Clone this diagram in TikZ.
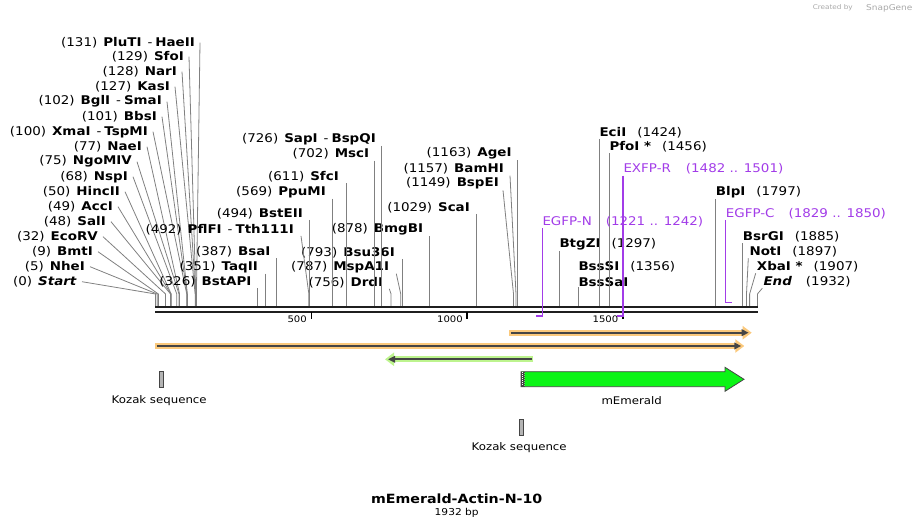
\documentclass[tikz,border=0pt]{standalone}
\usepackage{fontspec}
\setmainfont{DejaVu Sans}[FakeStretch=1.12]
\usetikzlibrary{arrows.meta}

\definecolor{sitegray}{HTML}{808080}
\definecolor{primer}{HTML}{A23CE8}
\definecolor{glowor}{HTML}{FBC97C}
\definecolor{glowgr}{HTML}{BDF48E}
\definecolor{emerald}{HTML}{0BF516}
\definecolor{darkbar}{HTML}{454545}
\definecolor{kozakgray}{HTML}{B4B4B4}
\definecolor{creditgray}{HTML}{A8A8A8}

\newcommand{\labfont}{\fontsize{12}{13}\selectfont}
\newcommand{\enz}[2]{(#1)\hspace{6pt}\textbf{#2}}
\newcommand{\also}[1]{\hspace{6pt}-\hspace{3pt}\textbf{#1}}
\newcommand{\enr}[2]{\textbf{#1}\hspace{11pt}(#2)}
\newcommand{\bpx}[1]{155.6+0.3115*#1}

\begin{document}
\begin{tikzpicture}[x=1pt,y=-1pt,
    lab/.style={font=\labfont, inner sep=1pt},
    labl/.style={lab, anchor=east},
    labr/.style={lab, anchor=west},
    cut/.style={draw=sitegray, line width=0.8pt},
    prim/.style={draw=primer, line width=1.4pt},
    ticklab/.style={font=\fontsize{9}{10}\selectfont, anchor=east, inner sep=0pt},
    featlab/.style={font=\fontsize{10.5}{12}\selectfont, inner sep=0pt},
    kozak/.style={draw=darkbar, fill=kozakgray, line width=0.6pt}]

  \useasboundingbox (0,0) rectangle (914,529);

  % credit line
  \node[anchor=east, inner sep=0pt, text=creditgray, font=\fontsize{6.5}{7}\selectfont] (created) at (853,8) {Created by};
  \node[anchor=west, inner sep=0pt, text=creditgray, font=\fontsize{8}{9}\selectfont] (snapgene) at (866,8) {SnapGene};

  % backbone
  \coordinate (bbL) at (155.3,307);
  \coordinate (bbR) at (758.3,307);
  \coordinate (bbL2) at (155.3,311.7);
  \coordinate (bbR2) at (758.3,311.7);
  \draw[line width=2.6pt, black!88] (bbL) -- (bbR);
  \draw[line width=2pt, black!88] (bbL2) -- (bbR2);
  \coordinate (kink) at (0,294);

  % scale ticks
  \coordinate (t500) at (\bpx{500},312);
  \coordinate (t1000) at (\bpx{1000},312);
  \coordinate (t1500) at (\bpx{1500},312);
  \draw[line width=1.5pt] (t500) -- ++(0,7.5);
  \draw[line width=1.5pt] (t1000) -- ++(0,7.5);
  \draw[line width=1.5pt] (t1500) -- ++(0,7.5);
  \node[ticklab] (l500) at (307,319.5) {500};
  \node[ticklab] (l1000) at (463,319.5) {1000};
  \node[ticklab] (l1500) at (618.5,319.5) {1500};

  % sites
  \coordinate (sStart) at (\bpx{0},306);
  \coordinate (sNheI) at (\bpx{5},306);
  \coordinate (sBmtI) at (\bpx{9},306);
  \coordinate (sEcoRV) at (\bpx{32},306);
  \coordinate (sSalI) at (\bpx{48},306);
  \coordinate (sAccI) at (\bpx{49},306);
  \coordinate (sHincII) at (\bpx{50},306);
  \coordinate (sNspI) at (\bpx{68},306);
  \coordinate (sNgoMIV) at (\bpx{75},306);
  \coordinate (sNaeI) at (\bpx{77},306);
  \coordinate (sXmaI) at (\bpx{100},306);
  \coordinate (sBbsI) at (\bpx{101},306);
  \coordinate (sBglI) at (\bpx{102},306);
  \coordinate (sKasI) at (\bpx{127},306);
  \coordinate (sNarI) at (\bpx{128},306);
  \coordinate (sSfoI) at (\bpx{129},306);
  \coordinate (sPluTI) at (\bpx{131},306);
  \coordinate (sBstAPI) at (\bpx{326},306);
  \coordinate (sTaqII) at (\bpx{351},306);
  \coordinate (sBsaI) at (\bpx{387},306);
  \coordinate (sPflFI) at (\bpx{492},306);
  \coordinate (sBstEII) at (\bpx{494},306);
  \coordinate (sPpuMI) at (\bpx{569},306);
  \coordinate (sSfcI) at (\bpx{611},306);
  \coordinate (sMscI) at (\bpx{702},306);
  \coordinate (sSapI) at (\bpx{726},306);
  \coordinate (sDrdI) at (\bpx{756},306);
  \coordinate (sMspAI) at (\bpx{787},306);
  \coordinate (sBsuI) at (\bpx{793},306);
  \coordinate (sBmgBI) at (\bpx{878},306);
  \coordinate (sScaI) at (\bpx{1029},306);
  \coordinate (sBspEI) at (\bpx{1149},306);
  \coordinate (sBamHI) at (\bpx{1157},306);
  \coordinate (sAgeI) at (\bpx{1163},306);
  \coordinate (sBtgZI) at (\bpx{1297},306);
  \coordinate (sBssSI) at (\bpx{1356},306);
  \coordinate (sEciI) at (\bpx{1424},306);
  \coordinate (sPfoI) at (\bpx{1456},306);
  \coordinate (sBlpI) at (\bpx{1797},306);
  \coordinate (sBsrGI) at (\bpx{1885},306);
  \coordinate (sNotI) at (\bpx{1897},306);
  \coordinate (sXbaI) at (\bpx{1907},306);
  \coordinate (sEnd) at (\bpx{1932},306);

  % left fan of labels
  \begin{scope}[every node/.style={labl}]
    \node (PluTI) at (196,42.7) {\enz{131}{PluTI}\also{HaeII}};
    \node (SfoI) at (185,56.7) {\enz{129}{SfoI}};
    \node (NarI) at (178,71.7) {\enz{128}{NarI}};
    \node (KasI) at (171,86.7) {\enz{127}{KasI}};
    \node (BglI) at (163,101.7) {\enz{102}{BglI}\also{SmaI}};
    \node (BbsI) at (158,116.7) {\enz{101}{BbsI}};
    \node (XmaI) at (149,131.7) {\enz{100}{XmaI}\also{TspMI}};
    \node (NaeI) at (143,146.7) {\enz{77}{NaeI}};
    \node (NgoMIV) at (133,161.7) {\enz{75}{NgoMIV}};
    \node (NspI) at (129,176.7) {\enz{68}{NspI}};
    \node (HincII) at (121,191.7) {\enz{50}{HincII}};
    \node (AccI) at (114,206.7) {\enz{49}{AccI}};
    \node (SalI) at (107,221.7) {\enz{48}{SalI}};
    \node (EcoRV) at (99,236.7) {\enz{32}{EcoRV}};
    \node (BmtI) at (94,251.7) {\enz{9}{BmtI}};
    \node (NheI) at (86,266.7) {\enz{5}{NheI}};
    \node (Start) at (78,281.7) {(0)\hspace{6pt}\textbf{\textit{Start}}};
  \end{scope}

  \begin{scope}[every path/.style={cut}]
    \draw ([xshift=4pt]PluTI.east) -- (kink -| sPluTI) -- (sPluTI);
    \draw ([xshift=4pt]SfoI.east) -- (kink -| sSfoI) -- (sSfoI);
    \draw ([xshift=4pt]NarI.east) -- (kink -| sNarI) -- (sNarI);
    \draw ([xshift=4pt]KasI.east) -- (kink -| sKasI) -- (sKasI);
    \draw ([xshift=4pt]BglI.east) -- (kink -| sBglI) -- (sBglI);
    \draw ([xshift=4pt]BbsI.east) -- (kink -| sBbsI) -- (sBbsI);
    \draw ([xshift=4pt]XmaI.east) -- (kink -| sXmaI) -- (sXmaI);
    \draw ([xshift=4pt]NaeI.east) -- (kink -| sNaeI) -- (sNaeI);
    \draw ([xshift=4pt]NgoMIV.east) -- (kink -| sNgoMIV) -- (sNgoMIV);
    \draw ([xshift=4pt]NspI.east) -- (kink -| sNspI) -- (sNspI);
    \draw ([xshift=4pt]HincII.east) -- (kink -| sHincII) -- (sHincII);
    \draw ([xshift=4pt]AccI.east) -- (kink -| sAccI) -- (sAccI);
    \draw ([xshift=4pt]SalI.east) -- (kink -| sSalI) -- (sSalI);
    \draw ([xshift=4pt]EcoRV.east) -- (kink -| sEcoRV) -- (sEcoRV);
    \draw ([xshift=4pt]BmtI.east) -- (kink -| sBmtI) -- (sBmtI);
    \draw ([xshift=4pt]NheI.east) -- (kink -| sNheI) -- (sNheI);
    \draw ([xshift=4pt]Start.east) -- (kink -| sStart) -- (sStart);
  \end{scope}

  % middle labels
  \begin{scope}[every node/.style={labl}]
    \node (BstEII) at (304,213.3) {\enz{494}{BstEII}};
    \node (PflFI) at (295,229.3) {\enz{492}{PflFI}\also{Tth111I}};
    \node (BsaI) at (271.7,251.7) {\enz{387}{BsaI}};
    \node (TaqII) at (259,266.7) {\enz{351}{TaqII}};
    \node (BstAPI) at (252.7,281.7) {\enz{326}{BstAPI}};
    \node (SapI) at (377,139) {\enz{726}{SapI}\also{BspQI}};
    \node (MscI) at (370.3,154) {\enz{702}{MscI}};
    \node (SfcI) at (340,176.7) {\enz{611}{SfcI}};
    \node (PpuMI) at (327,191.7) {\enz{569}{PpuMI}};
    \node (BmgBI) at (424.3,229) {\enz{878}{BmgBI}};
    \node (BsuI) at (396,252.3) {\enz{793}{Bsu36I}};
    \node (MspAI) at (390.3,266.7) {\enz{787}{MspA1I}};
    \node (DrdI) at (384.3,282.3) {\enz{756}{DrdI}};
    \node (ScaI) at (471,207.3) {\enz{1029}{ScaI}};
    \node (AgeI) at (512.7,153.3) {\enz{1163}{AgeI}};
    \node (BamHI) at (505,169) {\enz{1157}{BamHI}};
    \node (BspEI) at (500,183.3) {\enz{1149}{BspEI}};
  \end{scope}

  \begin{scope}[every path/.style={cut}]
    \draw (BstEII.south -| sBstEII) -- (sBstEII);
    \draw ([xshift=6pt]PflFI.south east) -- (kink -| sPflFI) -- (sPflFI);
    \draw (BsaI.south -| sBsaI) -- (sBsaI);
    \draw (TaqII.south -| sTaqII) -- (sTaqII);
    \draw (BstAPI.south -| sBstAPI) -- (sBstAPI);
    \draw (SapI.south -| sSapI) -- (sSapI);
    \draw (MscI.south -| sMscI) -- (sMscI);
    \draw (SfcI.south -| sSfcI) -- (sSfcI);
    \draw (PpuMI.south -| sPpuMI) -- (sPpuMI);
    \draw (BmgBI.south -| sBmgBI) -- (sBmgBI);
    \draw (BsuI.south -| sBsuI) -- (sBsuI);
    \draw ([xshift=6pt]MspAI.south east) -- (kink -| sMspAI) -- (sMspAI);
    \draw ([xshift=5pt]DrdI.south east) -- (kink -| sDrdI) -- (sDrdI);
    \draw (ScaI.south -| sScaI) -- (sScaI);
    \draw (AgeI.south -| sAgeI) -- (sAgeI);
    \draw ([xshift=5pt]BamHI.south east) -- (kink -| sBamHI) -- (sBamHI);
    \draw ([xshift=3pt]BspEI.south east) -- (kink -| sBspEI) -- (sBspEI);
  \end{scope}

  % right labels
  \begin{scope}[every node/.style={labr}]
    \node (EciI) at (598.3,132.3) {\enr{EciI}{1424}};
    \node (PfoI) at (608.3,146.7) {\enr{PfoI *}{1456}};
    \node (BtgZI) at (558.3,244.3) {\enr{BtgZI}{1297}};
    \node (BssSI) at (577.3,266.7) {\enr{BssSI}{1356}};
    \node (BssSaI) at (577.3,281.7) {\textbf{BssSaI}};
    \node (BlpI) at (714.7,192.3) {\enr{BlpI}{1797}};
    \node (BsrGI) at (741.7,236.7) {\enr{BsrGI}{1885}};
    \node (NotI) at (748.3,251.7) {\enr{NotI}{1897}};
    \node (XbaI) at (755.7,266.7) {\enr{XbaI *}{1907}};
    \node (End) at (762.3,281.7) {\textbf{\textit{End}}\hspace{14pt}(1932)};
  \end{scope}

  \begin{scope}[every path/.style={cut}]
    \draw (EciI.south -| sEciI) -- (sEciI);
    \draw (PfoI.south -| sPfoI) -- (sPfoI);
    \draw (BtgZI.south -| sBtgZI) -- (sBtgZI);
    \draw (BssSaI.south -| sBssSI) -- (sBssSI);
    \draw (BlpI.south -| sBlpI) -- (sBlpI);
    \draw (BsrGI.south -| sBsrGI) -- (sBsrGI);
    \draw (NotI.south west) -- (kink -| sNotI) -- (sNotI);
    \draw (XbaI.south west) -- (kink -| sXbaI) -- (sXbaI);
    \draw (End.south west) -- (kink -| sEnd) -- (sEnd);
  \end{scope}

  % primers
  \begin{scope}[every node/.style={labr, text=primer}]
    \node (EXFPR) at (622.3,169) {EXFP-R\hspace{15pt}(1482 .. 1501)};
    \node (EGFPN) at (541.3,221.7) {EGFP-N\hspace{14pt}(1221 .. 1242)};
    \node (EGFPC) at (724.7,213.3) {EGFP-C\hspace{14pt}(1829 .. 1850)};
  \end{scope}
  \coordinate (pEXFPRa) at (\bpx{1482},316);
  \coordinate (pEXFPRb) at (\bpx{1501},316);
  \coordinate (pEGFPNa) at (\bpx{1221},316);
  \coordinate (pEGFPNb) at (\bpx{1242},316);
  \coordinate (pEGFPCa) at (\bpx{1829},302.7);
  \coordinate (pEGFPCb) at (\bpx{1850},302.7);
  \draw[prim] (EXFPR.south -| pEXFPRb) -- (pEXFPRb) -- (pEXFPRa);
  \draw[prim] (EGFPN.south -| pEGFPNb) -- (pEGFPNb) -- (pEGFPNa);
  \draw[prim] (EGFPC.south -| pEGFPCa) -- (pEGFPCa) -- (pEGFPCb);

  % features
  \coordinate (orA1) at (509.3,332.7);
  \coordinate (orA2) at (751.7,332.7);
  \coordinate (orB1) at (155,346);
  \coordinate (orB2) at (744.3,346);
  \coordinate (grA1) at (533.3,359.3);
  \coordinate (grA2) at (385,359.3);
  \draw[glowor, line width=6pt, -{Triangle[length=9pt,width=13pt]}] (orA1) -- (orA2);
  \draw[darkbar, line width=2pt, -{Triangle[length=7pt,width=6.5pt]}] ([xshift=1.5pt]orA1) -- ([xshift=-3pt]orA2);
  \draw[glowor, line width=6pt, -{Triangle[length=9pt,width=13pt]}] (orB1) -- (orB2);
  \draw[darkbar, line width=2pt, -{Triangle[length=7pt,width=6.5pt]}] ([xshift=1.5pt]orB1) -- ([xshift=-3pt]orB2);
  \draw[glowgr, line width=6pt, -{Triangle[length=9pt,width=13pt]}] (grA1) -- (grA2);
  \draw[darkbar, line width=2pt, -{Triangle[length=7pt,width=6.5pt]}] ([xshift=-1.5pt]grA1) -- ([xshift=3pt]grA2);

  % mEmerald
  \draw[fill=emerald, draw=darkbar, line width=0.8pt]
    (521,371.7) -- (725,371.7) -- (725,367.3) -- (744,379.3) -- (725,391.3) -- (725,386.7) -- (521,386.7) -- cycle;
  \fill[darkbar] (521,371.7) rectangle (525,386.7);
  \draw[white, line width=0.9pt, dash pattern=on 1pt off 1pt] (522.6,372.5) -- (522.6,386);
  \draw[emerald!70!white, line width=0.7pt, dash pattern=on 1pt off 1pt] (524.3,373) -- (524.3,386);
  \node[featlab] (mEmerald) at (631.7,400.7) {mEmerald};

  % Kozak sequences
  \draw[kozak] (159,371) rectangle (163.3,387.3);
  \node[featlab] (kozak1) at (159.2,400.7) {Kozak sequence};
  \draw[kozak] (519,419) rectangle (523,435);
  \node[featlab] (kozak2) at (519.2,448) {Kozak sequence};

  % title
  \node[font=\fontsize{12.7}{14}\selectfont\bfseries, inner sep=0pt] (title) at (456.7,498.3) {mEmerald-Actin-N-10};
  \node[font=\fontsize{9.5}{11}\selectfont, inner sep=0pt] (size) at (456.7,513.3) {1932 bp};

\end{tikzpicture}
\end{document}
